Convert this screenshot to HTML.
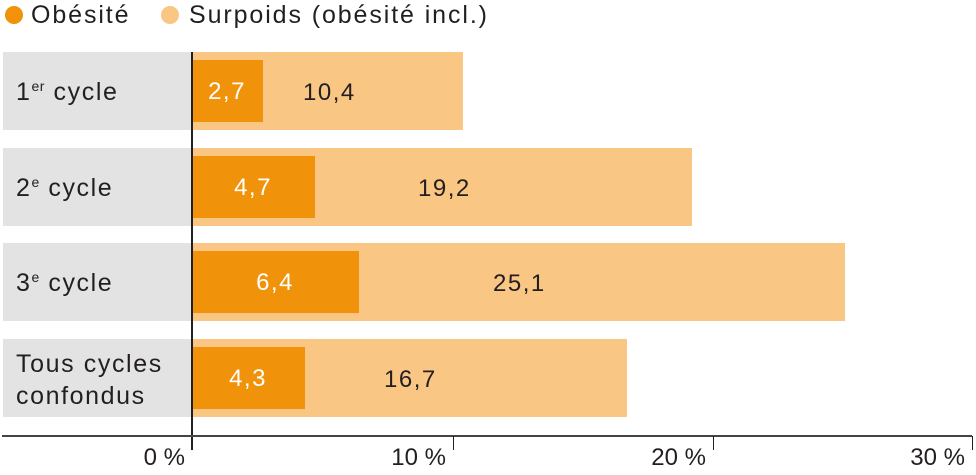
<!DOCTYPE html>
<html><head><meta charset="utf-8"><style>
body{margin:0;width:976px;height:475px;background:#fff;position:relative;overflow:hidden;font-family:"Liberation Sans",sans-serif;color:#231f20}
.a{position:absolute}
.g{background:#e3e3e3;left:3px;width:188px;height:78px}
.l{background:#f9c684;left:191px;height:78px}
.d{background:#f0920a;left:191px;height:62px;color:#fff;font-size:24px;line-height:64px;text-align:center;letter-spacing:1.5px}
.t{font-size:25px;letter-spacing:1.6px}
.v{font-size:24px;letter-spacing:1.5px}
sup{font-size:14px;vertical-align:9px;line-height:0;letter-spacing:0.5px}
.tk{width:1px;background:#231f20;top:436px;height:14px}
.x{font-size:24px;top:444px;text-align:right;width:80px}
</style></head><body>
<div class="a" style="left:5px;top:6px;width:18px;height:18px;border-radius:50%;background:#f0920a"></div>
<div class="a t" style="left:31px;top:1px;letter-spacing:1.9px">Obésité</div>
<div class="a" style="left:161px;top:6px;width:18px;height:18px;border-radius:50%;background:#f9c684"></div>
<div class="a t" style="left:189px;top:1px;letter-spacing:1.9px">Surpoids (obésité incl.)</div>

<div class="a g" style="top:52px"></div><div class="a l" style="top:52px;width:272px"></div>
<div class="a d" style="top:60px;width:72px">2,7</div>
<div class="a t" style="left:16px;top:78px">1<sup>er</sup> cycle</div>
<div class="a v" style="left:303px;top:79px">10,4</div>

<div class="a g" style="top:148px"></div><div class="a l" style="top:148px;width:501px"></div>
<div class="a d" style="top:156px;width:124px">4,7</div>
<div class="a t" style="left:16px;top:174px">2<sup>e</sup> cycle</div>
<div class="a v" style="left:418px;top:175px">19,2</div>

<div class="a g" style="top:243px"></div><div class="a l" style="top:243px;width:654px"></div>
<div class="a d" style="top:251px;width:168px">6,4</div>
<div class="a t" style="left:16px;top:269px">3<sup>e</sup> cycle</div>
<div class="a v" style="left:493px;top:270px">25,1</div>

<div class="a g" style="top:339px"></div><div class="a l" style="top:339px;width:436px"></div>
<div class="a d" style="top:347px;width:114px">4,3</div>
<div class="a t" style="left:16px;top:348px;line-height:32px">Tous cycles<br>confondus</div>
<div class="a v" style="left:384px;top:366px">16,7</div>

<div class="a" style="left:191px;top:52px;width:1.5px;height:398px;background:#231f20"></div>
<div class="a" style="left:2px;top:435px;width:970px;height:2px;background:#444"></div>
<div class="a tk" style="left:453px"></div>
<div class="a tk" style="left:713px"></div>
<div class="a tk" style="left:972px"></div>
<div class="a x" style="left:105px">0 %</div>
<div class="a x" style="left:366px">10 %</div>
<div class="a x" style="left:626px">20 %</div>
<div class="a x" style="left:885px">30 %</div>
</body></html>
